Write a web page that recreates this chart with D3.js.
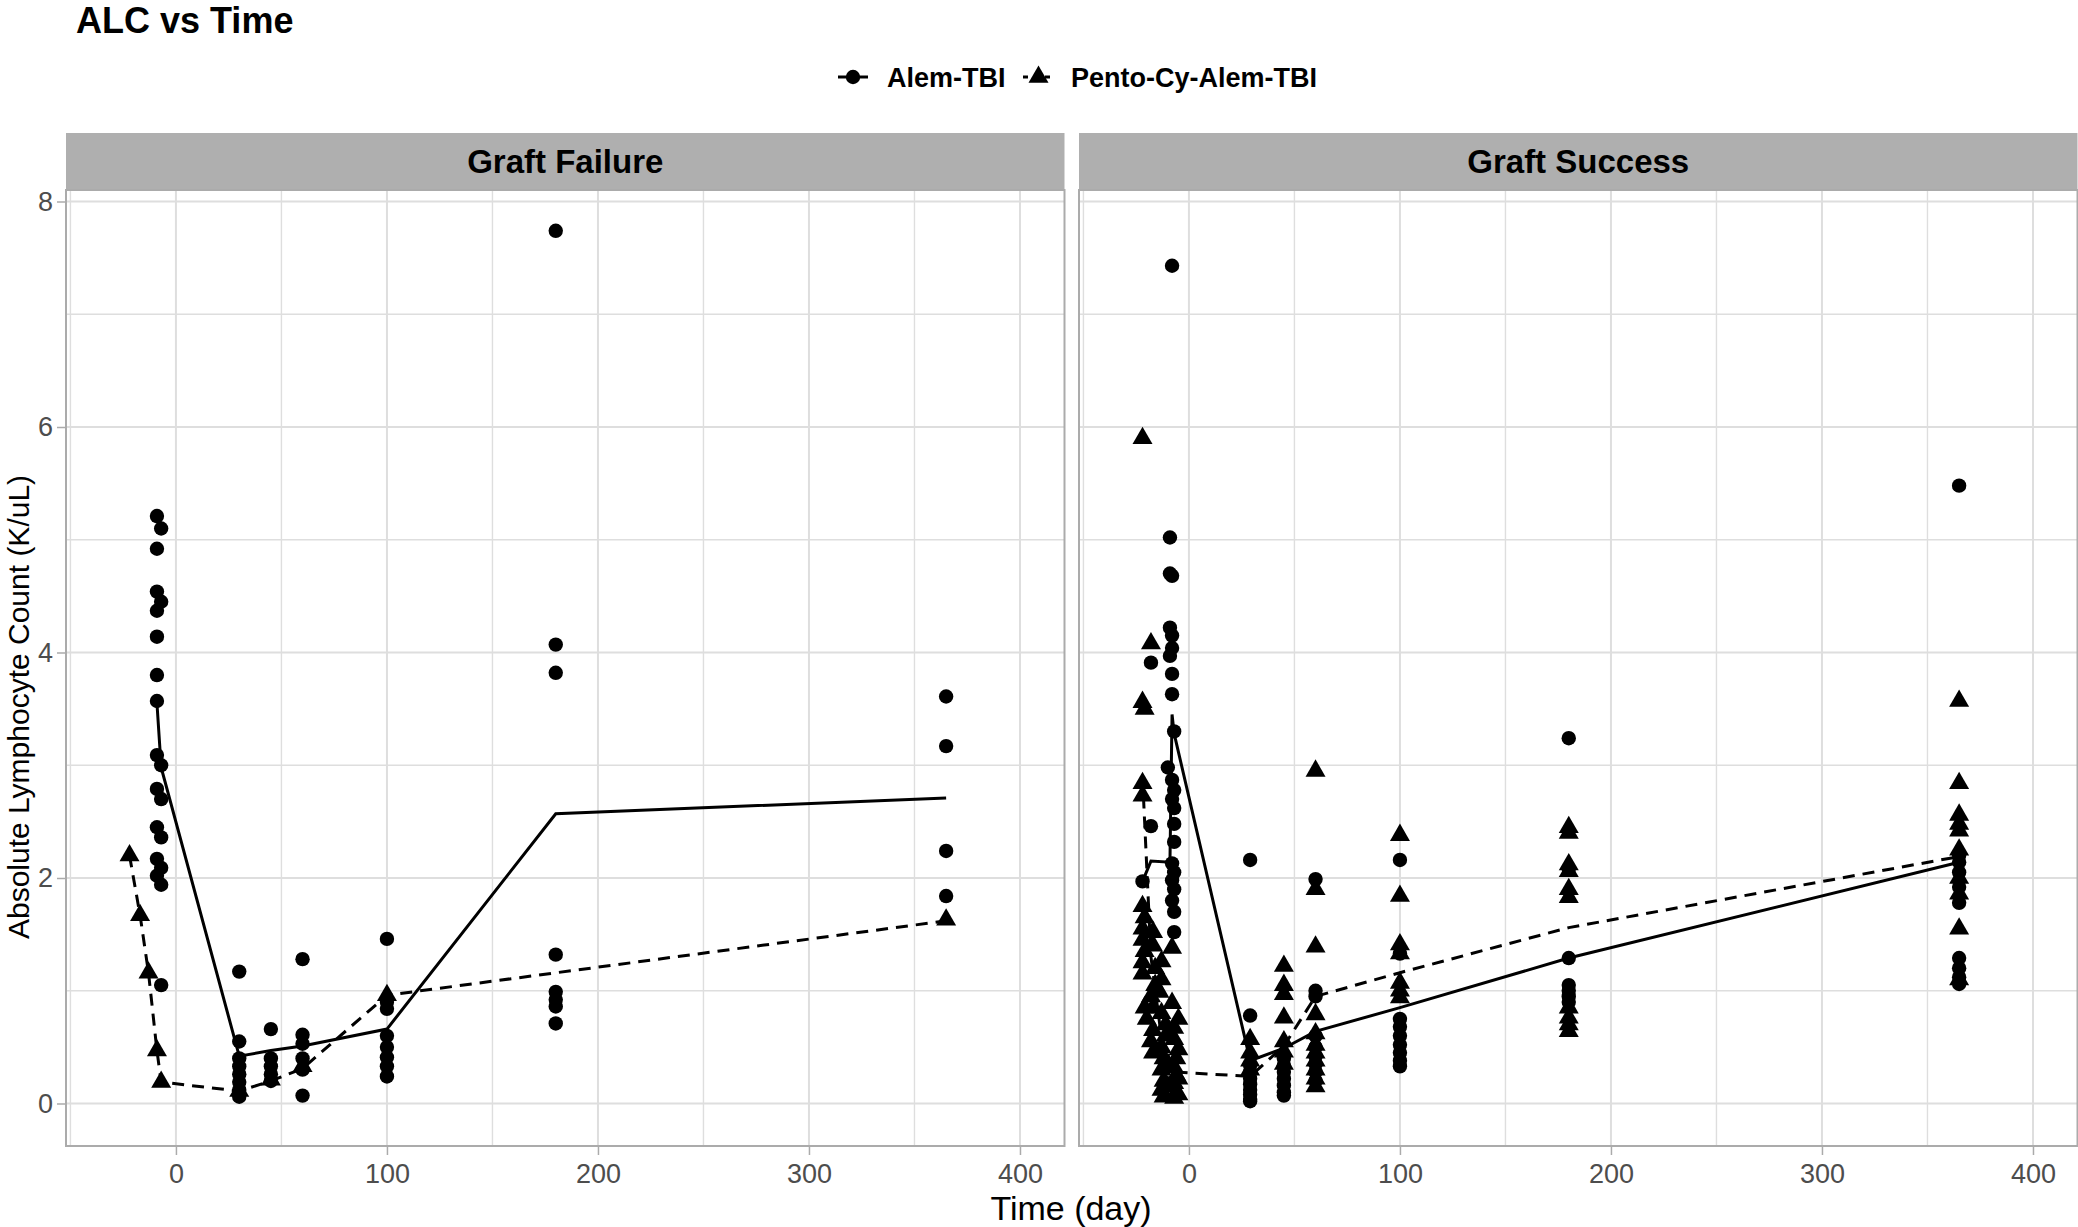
<!DOCTYPE html>
<html><head><meta charset="utf-8">
<script src="https://cdn.jsdelivr.net/npm/d3@7"></script>
<style>body{margin:0;background:#fff;overflow:hidden}svg{display:block}text{font-family:"Liberation Sans",Arial,sans-serif}</style>
</head><body><svg id="chart" width="2078" height="1227"></svg>
<script>
// ---------- data ----------
const panels = ["Graft Failure", "Graft Success"];
const groups = ["Alem-TBI", "Pento-Cy-Alem-TBI"];
const xTicks = [0, 100, 200, 300, 400];
const xMinor = [-50, 50, 150, 250, 350];
const yTicks = [0, 2, 4, 6, 8];
const yMinor = [1, 3, 5, 7];

// [day, ALC]
const failureAlem = [
 [-9,5.21],[-7,5.10],[-9,4.92],[-9,4.54],[-7,4.45],[-9,4.37],[-9,4.14],[-9,3.80],[-9,3.57],[-9,3.09],[-7,3.00],[-9,2.79],[-7,2.70],[-9,2.45],[-7,2.36],[-9,2.17],[-7,2.09],[-9,2.02],[-7,1.94],[-7,1.05],
 [30,1.17],[30,0.55],[30,0.40],[30,0.33],[30,0.26],[30,0.19],[30,0.12],[30,0.06],
 [45,0.66],[45,0.40],[45,0.33],[45,0.26],[45,0.20],
 [60,1.28],[60,0.61],[60,0.53],[60,0.40],[60,0.30],[60,0.07],
 [100,1.46],[100,0.90],[100,0.84],[100,0.60],[100,0.50],[100,0.41],[100,0.33],[100,0.24],
 [180,7.74],[180,4.07],[180,3.82],[180,1.32],[180,0.99],[180,0.92],[180,0.86],[180,0.71],
 [365,3.61],[365,3.17],[365,2.24],[365,1.84]
];
const failurePento = [
 [-22,2.20],[-17,1.67],[-13,1.16],[-9,0.47],[-7,0.19],[30,0.11],[45,0.21],[60,0.33],[100,0.96],[365,1.63]
];
const successAlem = [
 [-22,1.97],[-18,3.91],[-18,2.46],
 [-8,7.43],[-9,5.02],[-9,4.70],[-8,4.68],[-9,4.22],[-8,4.15],[-8,4.04],[-9,3.97],[-8,3.81],[-8,3.63],[-7,3.30],[-10,2.98],[-8,2.87],[-7,2.78],[-8,2.70],[-7,2.62],[-7,2.48],[-7,2.32],[-8,2.13],[-7,2.05],[-8,1.98],[-7,1.90],[-8,1.80],[-7,1.70],[-7,1.52],
 [29,2.16],[29,0.78],[29,0.34],[29,0.28],[29,0.22],[29,0.17],[29,0.12],[29,0.08],[29,0.04],[29,0.02],
 [45,0.40],[45,0.34],[45,0.28],[45,0.22],[45,0.16],[45,0.10],[45,0.07],
 [60,1.99],[60,1.00],[60,0.95],[60,0.60],[60,0.50],[60,0.42],[60,0.35],[60,0.28],[60,0.20],
 [100,2.16],[100,1.33],[100,0.75],[100,0.68],[100,0.60],[100,0.52],[100,0.45],[100,0.38],[100,0.33],
 [180,3.24],[180,2.08],[180,1.29],[180,1.05],[180,1.00],[180,0.95],[180,0.90],
 [365,5.48],[365,2.20],[365,2.14],[365,2.05],[365,1.92],[365,1.78],[365,1.29],[365,1.20],[365,1.12],[365,1.06]
];
const successPento = [
 [-22,5.90],[-22,3.56],[-21,3.50],[-22,2.84],[-22,2.73],[-22,1.75],[-21,1.65],[-22,1.55],[-22,1.45],[-21,1.35],[-22,1.25],[-22,1.15],[-21,0.85],[-20,0.75],
 [-18,4.08],[-17,1.52],[-17,1.40],[-18,0.95],[-17,0.85],[-17,0.65],[-18,0.55],[-17,0.45],[-16,1.20],[-16,1.05],
 [-13,1.26],[-13,1.10],[-14,0.99],[-13,0.80],[-13,0.50],[-12,0.40],[-13,0.30],[-12,0.20],[-13,0.12],[-12,0.06],[-11,0.70],[-11,0.60],[-10,0.35],[-10,0.15],
 [-8,1.38],[-8,0.89],[-7,0.67],[-7,0.57],[-6,0.40],[-7,0.32],[-6,0.25],[-7,0.18],[-6,0.10],[-7,0.05],[-5,0.75],[-5,0.48],[-5,0.22],[-5,0.08],
 [29,0.57],[29,0.45],[29,0.38],[29,0.30],
 [45,1.22],[45,1.05],[45,0.97],[45,0.76],[45,0.55],[45,0.46],[45,0.35],
 [60,2.95],[60,1.90],[60,1.39],[60,0.79],[60,0.62],[60,0.52],[60,0.45],[60,0.38],[60,0.30],[60,0.22],[60,0.15],
 [100,2.38],[100,1.84],[100,1.41],[100,1.33],[100,1.07],[100,1.00],[100,0.94],
 [180,2.45],[180,2.40],[180,2.12],[180,2.06],[180,1.90],[180,1.83],[180,0.85],[180,0.76],[180,0.70],[180,0.64],
 [365,3.57],[365,2.84],[365,2.56],[365,2.48],[365,2.42],[365,2.25],[365,2.00],[365,1.86],[365,1.55],[365,1.10]
];
// mean lines
const failureAlemLine = [[-9,3.55],[-7,2.98],[30,0.42],[45,0.47],[60,0.51],[100,0.66],[180,2.57],[365,2.71]];
const failurePentoLine = [[-22,2.20],[-17,1.67],[-13,1.16],[-9,0.47],[-7,0.19],[30,0.11],[45,0.20],[60,0.31],[100,0.96],[365,1.62]];
const successAlemLine = [[-22,1.97],[-18,2.15],[-9,2.14],[-8,3.45],[-7,3.28],[29,0.38],[45,0.49],[60,0.64],[100,0.85],[180,1.29],[365,2.14]];
const successPentoLine = [[-22,2.90],[-18,1.30],[-13,0.58],[-7,0.28],[29,0.24],[45,0.51],[60,0.95],[100,1.16],[180,1.56],[365,2.19]];

const panelData = [
  {name: panels[0], alem: failureAlem, pento: failurePento, alemLine: failureAlemLine, pentoLine: failurePentoLine},
  {name: panels[1], alem: successAlem, pento: successPento, alemLine: successAlemLine, pentoLine: successPentoLine}
];

// ---------- layout ----------
const svg = d3.select("#chart");
const panelLeft = [66, 1079];
const panelW = 998.5;
const stripTop = 133, plotTop = 190, plotBottom = 1146;
const GRID = "#dedede", BORDER = "#ababab", STRIP = "#afafaf", AXTXT = "#4d4d4d";

const x = d3.scaleLinear().domain([-52.1, 421.1]).range([0, panelW]);
const y = d3.scaleLinear().domain([-0.377, 8.102]).range([plotBottom, plotTop]);

const triSide = 20;
const triPath = d3.symbol().type(d3.symbolTriangle).size(Math.sqrt(3) / 4 * triSide * triSide)();

// title
svg.append("text").attr("x", 76).attr("y", 33).attr("font-size", 36).attr("font-weight", "bold").attr("fill", "#000").text("ALC vs Time");

// legend
const lg = svg.append("g");
const legY = 77;
lg.append("line").attr("x1", 838).attr("x2", 868).attr("y1", legY).attr("y2", legY).attr("stroke", "#000").attr("stroke-width", 3);
lg.append("circle").attr("cx", 853).attr("cy", legY).attr("r", 7.2).attr("fill", "#000");
lg.append("text").attr("x", 887).attr("y", legY).attr("dy", "0.36em").attr("font-size", 27).attr("font-weight", "bold").text(groups[0]);
lg.append("line").attr("x1", 1023).attr("x2", 1054).attr("y1", legY).attr("y2", legY).attr("stroke", "#000").attr("stroke-width", 3).attr("stroke-dasharray", "5,6");
lg.append("path").attr("d", triPath).attr("transform", `translate(1038.5,${legY})`).attr("fill", "#000");
lg.append("text").attr("x", 1071).attr("y", legY).attr("dy", "0.36em").attr("font-size", 27).attr("font-weight", "bold").text(groups[1]);

const defs = svg.append("defs");

panelData.forEach((p, i) => {
  const g = svg.append("g").attr("transform", `translate(${panelLeft[i]},0)`);
  defs.append("clipPath").attr("id", "clip" + i).append("rect")
    .attr("x", 0).attr("y", plotTop).attr("width", panelW).attr("height", plotBottom - plotTop);

  // strip
  g.append("rect").attr("x", 0).attr("y", stripTop).attr("width", panelW).attr("height", plotTop - stripTop).attr("fill", STRIP);
  g.append("text").attr("x", panelW / 2).attr("y", (stripTop + plotTop) / 2).attr("dy", "0.36em")
    .attr("text-anchor", "middle").attr("font-size", 33).attr("font-weight", "bold").attr("fill", "#000").text(p.name);

  // grid
  const grid = g.append("g");
  grid.selectAll(".xmin").data(xMinor).join("line").attr("x1", d => x(d)).attr("x2", d => x(d)).attr("y1", plotTop).attr("y2", plotBottom).attr("stroke", GRID).attr("stroke-width", 1.4);
  grid.selectAll(".ymin").data(yMinor).join("line").attr("y1", d => y(d)).attr("y2", d => y(d)).attr("x1", 0).attr("x2", panelW).attr("stroke", GRID).attr("stroke-width", 1.4);
  grid.selectAll(".xmaj").data(xTicks).join("line").attr("x1", d => x(d)).attr("x2", d => x(d)).attr("y1", plotTop).attr("y2", plotBottom).attr("stroke", GRID).attr("stroke-width", 2);
  grid.selectAll(".ymaj").data(yTicks).join("line").attr("y1", d => y(d)).attr("y2", d => y(d)).attr("x1", 0).attr("x2", panelW).attr("stroke", GRID).attr("stroke-width", 2);

  // axes ticks & labels
  const xAxis = g.append("g").attr("transform", `translate(0,${plotBottom})`)
    .call(d3.axisBottom(x).tickValues(xTicks).tickSize(9).tickSizeOuter(0).tickPadding(9));
  xAxis.select(".domain").remove();
  xAxis.selectAll(".tick line").attr("stroke", BORDER).attr("stroke-width", 1.5);
  xAxis.selectAll(".tick text").attr("font-size", 27).attr("fill", AXTXT).attr("font-family", '"Liberation Sans",Arial,sans-serif');
  if (i === 0) {
    const yAxis = g.append("g").call(d3.axisLeft(y).tickValues(yTicks).tickSize(9).tickSizeOuter(0).tickPadding(4));
    yAxis.select(".domain").remove();
    yAxis.selectAll(".tick line").attr("stroke", BORDER).attr("stroke-width", 1.5);
    yAxis.selectAll(".tick text").attr("font-size", 27).attr("fill", AXTXT).attr("font-family", '"Liberation Sans",Arial,sans-serif');
  }

  // data
  const plot = g.append("g").attr("clip-path", `url(#clip${i})`);
  plot.selectAll(".pc").data(p.alem).join("circle")
    .attr("cx", d => x(d[0])).attr("cy", d => y(d[1])).attr("r", 7.2).attr("fill", "#000");
  plot.selectAll(".pt").data(p.pento).join("path")
    .attr("d", triPath).attr("transform", d => `translate(${x(d[0])},${y(d[1])})`).attr("fill", "#000");
  const line = d3.line().x(d => x(d[0])).y(d => y(d[1]));
  plot.append("path").datum(p.alemLine).attr("d", line).attr("fill", "none").attr("stroke", "#000").attr("stroke-width", 3);
  plot.append("path").datum(p.pentoLine).attr("d", line).attr("fill", "none").attr("stroke", "#000").attr("stroke-width", 3).attr("stroke-dasharray", "12,8");

  // border
  g.append("rect").attr("x", 0).attr("y", plotTop).attr("width", panelW).attr("height", plotBottom - plotTop)
    .attr("fill", "none").attr("stroke", BORDER).attr("stroke-width", 2);
});

// axis titles
svg.append("text").attr("x", 1071).attr("y", 1220).attr("text-anchor", "middle").attr("font-size", 34).attr("fill", "#000").text("Time (day)");
svg.append("text").attr("transform", "translate(29,707) rotate(-90)").attr("text-anchor", "middle").attr("font-size", 30).attr("fill", "#000").text("Absolute Lymphocyte Count (K/uL)");
</script>
</body></html>
